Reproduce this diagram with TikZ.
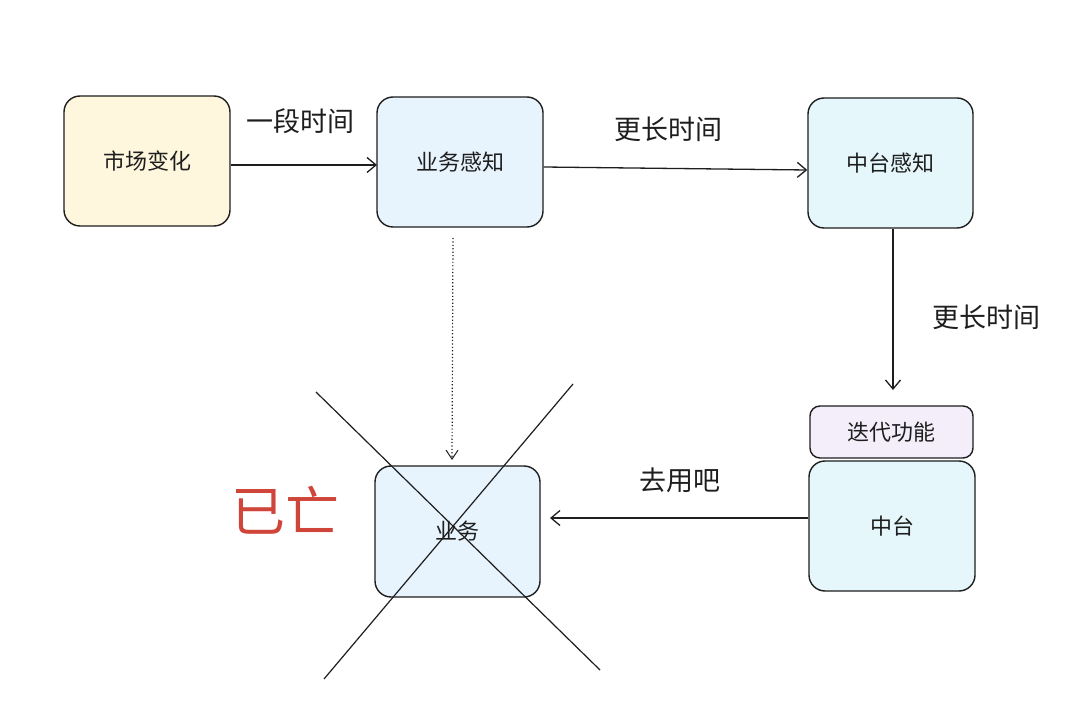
\documentclass[tikz,border=0pt]{standalone}
\usepackage{fontspec}
\setmainfont{Noto Sans CJK SC}
\usetikzlibrary{arrows.meta}
\definecolor{ink}{HTML}{1E1E1E}
\definecolor{cyellow}{HTML}{FFF7DD}
\definecolor{cblue}{HTML}{E7F3FD}
\definecolor{ccyan}{HTML}{E5F7FA}
\definecolor{clav}{HTML}{F3EEFA}
\definecolor{cred}{HTML}{D0453A}
\tikzset{
  box/.style={draw=ink, line width=1.4pt, rounded corners=16pt, text=ink, font=\fontsize{22}{26}\selectfont, inner sep=0pt},
  conn/.style={draw=ink, line width=1.3pt, -{Straight Barb[length=9pt,width=15pt,line width=1.3pt]}},
  lbl/.style={text=ink, font=\fontsize{27}{32}\selectfont, inner sep=0pt},
}
\begin{document}
\begin{tikzpicture}[x=1pt,y=-1pt]
\useasboundingbox (0,0) rectangle (1080,703);
\fill[white] (0,0) rectangle (1080,703);
% boxes
\node[box, fill=cyellow, minimum width=166pt, minimum height=130pt] (mkt) at (147,161) {市场变化};
\node[box, fill=cblue, minimum width=166pt, minimum height=130pt] (bsense) at (460,162) {业务感知};
\node[box, fill=ccyan, minimum width=165pt, minimum height=130pt] (zsense) at (890.5,163) {中台感知};
\node[box, fill=clav, rounded corners=10pt, minimum width=163pt, minimum height=52pt] (iter) at (891.5,432) {迭代功能};
\node[box, fill=ccyan, minimum width=166pt, minimum height=130pt] (zt) at (892,526) {中台};
\node[box, fill=cblue, minimum width=165pt, minimum height=131pt] (biz) at (457.5,531.5) {业务};
% connectors
\coordinate (a1e) at (377,165);
\draw[conn] (mkt.east |- a1e) -- (a1e);
\node[lbl] (l1) at (300,121) {一段时间};
\coordinate (a2s) at (543,167);
\coordinate (a2e) at (808,170);
\draw[conn] (bsense.east |- a2s) -- (zsense.west |- a2e);
\node[lbl] (l2) at (668,129) {更长时间};
\coordinate (a3e) at (893,390);
\draw[conn] (zsense.south -| a3e) -- (a3e);
\node[lbl] (l3) at (986,317) {更长时间};
\coordinate (a4e) at (550,518);
\draw[conn] (zt.west |- a4e) -- (a4e);
\node[lbl] (l4) at (680,480) {去用吧};
\coordinate (d1) at (453,238);
\coordinate (d2) at (452,460);
\draw[draw=ink, line width=1.2pt, dash pattern=on 1.2pt off 2.2pt, -{Straight Barb[length=9pt,width=12pt,line width=1pt]}] (d1) -- (d2);
% cross
\coordinate (c1) at (316,392);
\coordinate (c2) at (600,670);
\coordinate (c3) at (573,384);
\coordinate (c4) at (324,679);
\draw[ink, line width=1.2pt] (c1) -- (c2);
\draw[ink, line width=1.2pt] (c3) -- (c4);
\node[text=cred, font=\fontsize{54}{60}\selectfont, inner sep=0pt] (dead) at (285,510) {已亡};
\end{tikzpicture}
\end{document}
